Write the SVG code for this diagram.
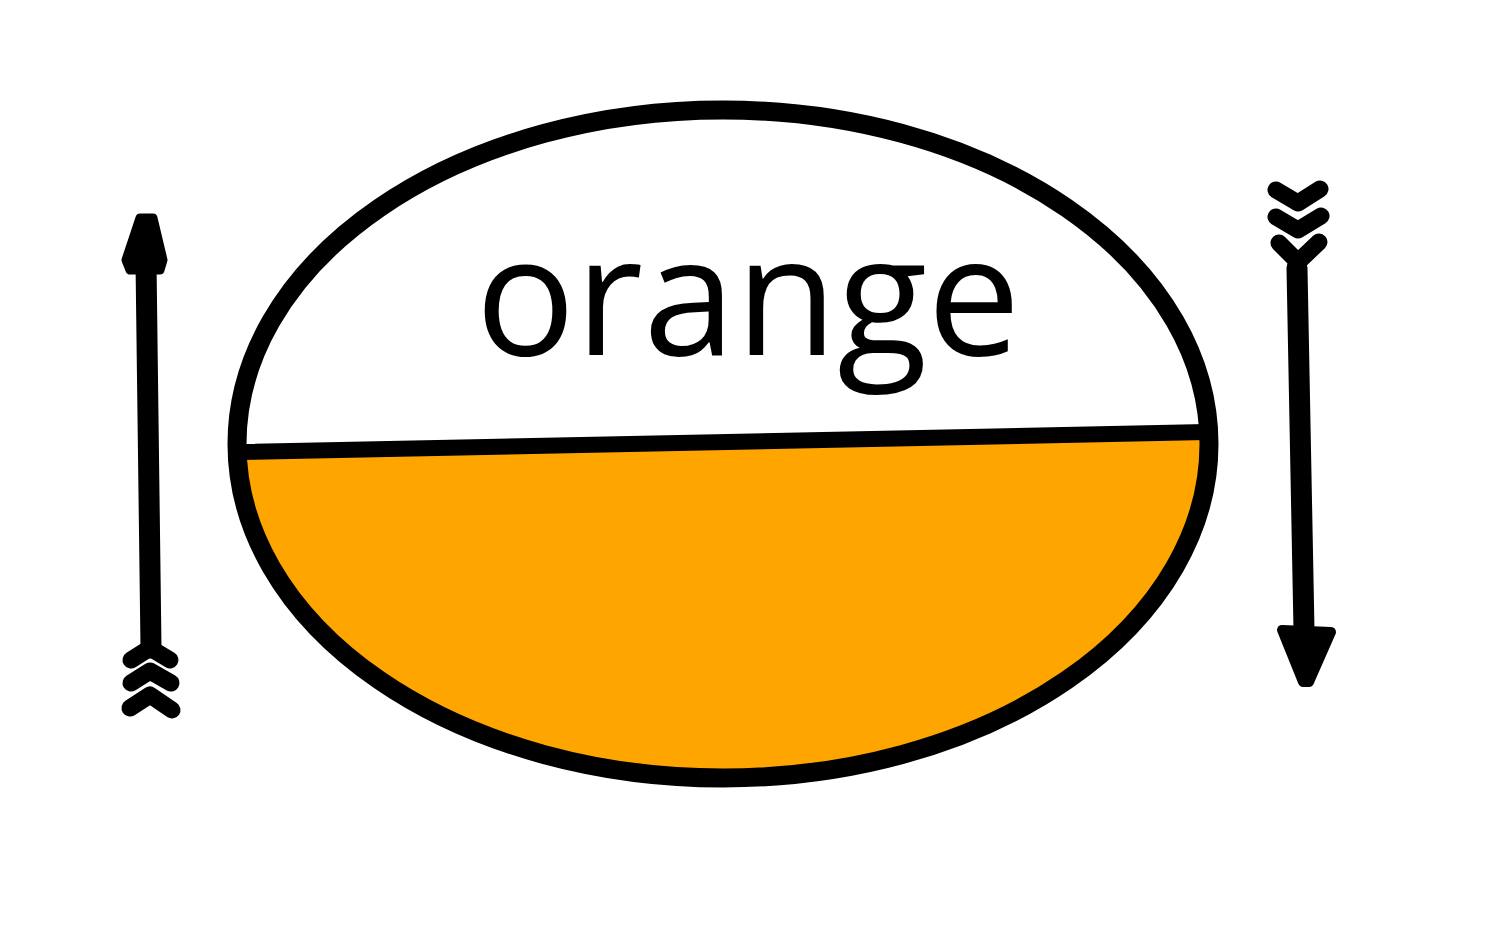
<svg xmlns="http://www.w3.org/2000/svg" width="1495" height="931" viewBox="0 0 1495 931">
<style>
.ink{stroke:#000;fill:none;stroke-linecap:round;stroke-linejoin:round}
.fl{stroke:#000;stroke-width:17;stroke-linecap:round;stroke-linejoin:round;fill:none}
.label{font-family:"Open Sans","Noto Sans",sans-serif;font-size:166px;fill:#000}
</style>
<defs>
<clipPath id="lower"><polygon points="0,457 1495,426 1495,931 0,931"/></clipPath>
</defs>
<rect width="1495" height="931" fill="#fff"/>
<g id="orange-node">
<ellipse cx="723" cy="444" rx="486" ry="334" fill="#fff"/>
<ellipse cx="723" cy="444" rx="486" ry="334" fill="#FFA500" clip-path="url(#lower)"/>
<ellipse class="ink" cx="723" cy="444" rx="486" ry="334" stroke-width="19"/>
<line class="ink" x1="240" y1="452" x2="1206" y2="432" stroke-width="16"/>
<text class="label" x="748" y="355" text-anchor="middle">orange</text>
</g>
<g id="connectors">
<g id="arrow-up">
<line class="ink" x1="146" y1="262" x2="151" y2="648" stroke-width="21"/>
<polygon points="140,218 153,218 163,260 160,270 130,270 126,260" fill="#000" stroke="#000" stroke-width="9" stroke-linejoin="round"/>
<path class="fl" d="M131,660 L150,648 L170,660 M131,683 L150,671 L171,683 M130,708 L150,695 L172,710"/>
</g>
<g id="arrow-down">
<line class="ink" x1="1297" y1="268" x2="1304" y2="630" stroke-width="21"/>
<polygon points="1282,630 1331,632 1309,682 1303,682" fill="#000" stroke="#000" stroke-width="10" stroke-linejoin="round"/>
<path class="fl" d="M1276,190 L1298,203 L1320,189 M1276,217 L1298,230 L1321,216 M1279,243 L1298,262 L1319,242"/>
</g>
</g>
</svg>
